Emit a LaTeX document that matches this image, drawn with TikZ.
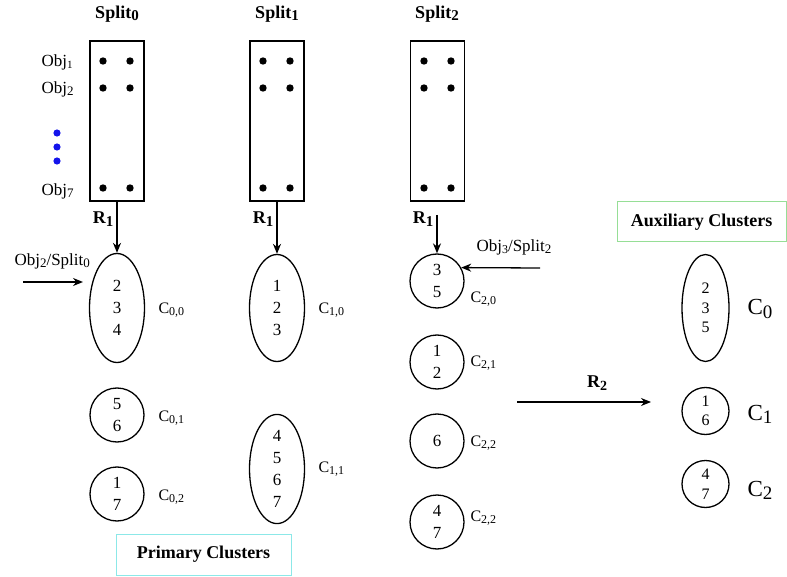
\documentclass[tikz,border=0pt]{standalone}
\usepackage{fontspec}
\setmainfont{Liberation Serif}
\setsansfont{Liberation Sans}
\usetikzlibrary{shapes.geometric,arrows.meta}
\definecolor{pcyan}{RGB}{140,232,232}
\definecolor{agreen}{RGB}{150,222,150}
\definecolor{dotblue}{RGB}{20,20,235}
\newcommand{\mysub}[2]{\raisebox{-0.3ex}{\fontsize{#1}{#1}\selectfont #2}}
\begin{document}
\begin{tikzpicture}[x=1pt,y=-1pt,
  splitbox/.style={draw, line width=1.3pt, minimum width=54pt, minimum height=160pt, inner sep=0pt},
  clu/.style={draw, ellipse, line width=1.3pt, inner sep=0pt, align=center, font=\fontsize{17}{22}\selectfont},
  auxclu/.style={draw, ellipse, line width=1.3pt, inner sep=0pt, align=center, font=\fontsize{16}{19.5}\selectfont},
  arr/.style={-{Stealth[length=10pt,width=8pt]}, line width=1.3pt},
  ttl/.style={font=\bfseries\fontsize{18}{20}\selectfont},
  objlab/.style={font=\fontsize{17}{20}\selectfont},
  clab/.style={anchor=west, font=\fontsize{16}{18}\selectfont},
  auxlab/.style={anchor=west, font=\fontsize{23}{25}\selectfont},
  legend/.style={draw, line width=1pt, inner sep=0pt, font=\bfseries\fontsize{18}{20}\selectfont}
]
\useasboundingbox (0,0) rectangle (787,577);

% split boxes
\node[splitbox] (s0) at (117,121) {};
\node[splitbox] (s1) at (277,121) {};
\node[splitbox] (s2) at (437.5,121) {};
\node[ttl] (t0) at (117,14) {Split\mysub{15}{0}};
\node[ttl] (t1) at (277,14) {Split\mysub{15}{1}};
\node[ttl] (t2) at (437,14) {Split\mysub{15}{2}};

% dots in boxes
\foreach \x in {103,130,263,290,424,451}{
  \foreach \y in {61,88,188}{
    \fill (\x,\y) circle (3.7pt);
  }
}
% object labels
\node[objlab, anchor=west] (o1) at (38,62) {Obj\mysub{11}{1}};
\node[objlab, anchor=west] (o2) at (38,89) {Obj\mysub{13}{2}};
\node[objlab, anchor=west] (o7) at (38,191) {Obj\mysub{13}{7}};
\foreach \y in {133,147,161}{ \fill[dotblue] (57,\y) circle (3.6pt); }

% R1 labels
\node[ttl] (r10) at (103,219) {R\mysub{15}{1}};
\node[ttl] (r11) at (263,219) {R\mysub{15}{1}};
\node[ttl] (r12) at (423,219) {R\mysub{15}{1}};

% primary clusters
\node[clu, minimum width=55pt, minimum height=109pt] (c00) at (117,308) {2\\3\\4};
\node[clu, minimum width=54pt, minimum height=54pt] (c01) at (117,415) {5\\6};
\node[clu, minimum width=54pt, minimum height=54pt] (c02) at (117,494) {1\\7};
\node[clu, minimum width=55pt, minimum height=107pt] (c10) at (277,308) {1\\2\\3};
\node[clu, minimum width=55pt, minimum height=107pt] (c11) at (277,469) {4\\5\\6\\7};
\node[clu, minimum width=54pt, minimum height=54pt] (c20) at (437,281) {3\\5};
\node[clu, minimum width=54pt, minimum height=54pt] (c21) at (437,362) {1\\2};
\node[clu, minimum width=54pt, minimum height=54pt] (c22) at (437,441) {6};
\node[clu, minimum width=54pt, minimum height=54pt] (c23) at (437,522) {4\\7};

\node[clab] (l00) at (155,310) {C\mysub{12}{0,0}};
\node[clab] (l01) at (155,418) {C\mysub{12}{0,1}};
\node[clab] (l02) at (155,497) {C\mysub{12}{0,2}};
\node[clab] (l10) at (315,310) {C\mysub{12}{1,0}};
\node[clab] (l11) at (315,469) {C\mysub{12}{1,1}};
\node[clab] (l20) at (467,299) {C\mysub{12}{2,0}};
\node[clab] (l21) at (467,363) {C\mysub{12}{2,1}};
\node[clab] (l22) at (467,443) {C\mysub{12}{2,2}};
\node[clab] (l23) at (467,518) {C\mysub{12}{2,2}};

% auxiliary clusters
\node[auxclu, minimum width=47pt, minimum height=107pt] (a0) at (705.5,308) {2\\3\\5};
\node[auxclu, minimum width=47pt, minimum height=47pt] (a1) at (705.5,411) {1\\6};
\node[auxclu, minimum width=47pt, minimum height=47pt] (a2) at (705.5,484) {4\\7};
\node[auxlab] (la0) at (744,309) {C\mysub{19}{0}};
\node[auxlab] (la1) at (744,414) {C\mysub{19}{1}};
\node[auxlab] (la2) at (744,490) {C\mysub{19}{2}};

% arrows from splits
\draw[arr] (s0.south) -- (c00.north);
\draw[arr] (s1.south) -- (c10.north);
\coordinate (s2a) at (437,215);
\draw[arr] (s2a) -- (c20.north);

% Obj2/Split0 arrow
\node[objlab, anchor=west] (ob2) at (11,261) {Obj\mysub{13}{2}/Split\mysub{13}{0}};
\coordinate (p2a) at (23,282);
\coordinate (p2b) at (83,282);
\draw[arr] (p2a) -- (p2b);

% Obj3/Split2 arrow
\node[objlab, anchor=west] (ob3) at (473,247) {Obj\mysub{12}{3}/Split\mysub{13}{2}};
\coordinate (p3a) at (540,268);
\draw[arr] (p3a) -- (c20.29);

% R2 arrow
\coordinate (q1) at (517,402);
\coordinate (q2) at (651,402);
\draw[arr] (q1) -- (q2);
\node[ttl] (r2) at (597,383) {R\mysub{14}{2}};

% legend boxes
\node[legend, draw=pcyan, minimum width=175pt, minimum height=41pt] (pc) at (203.5,554.5) {Primary Clusters};
\node[legend, draw=agreen, minimum width=169pt, minimum height=40pt] (ac) at (701.5,222) {Auxiliary Clusters};
\end{tikzpicture}
\end{document}
